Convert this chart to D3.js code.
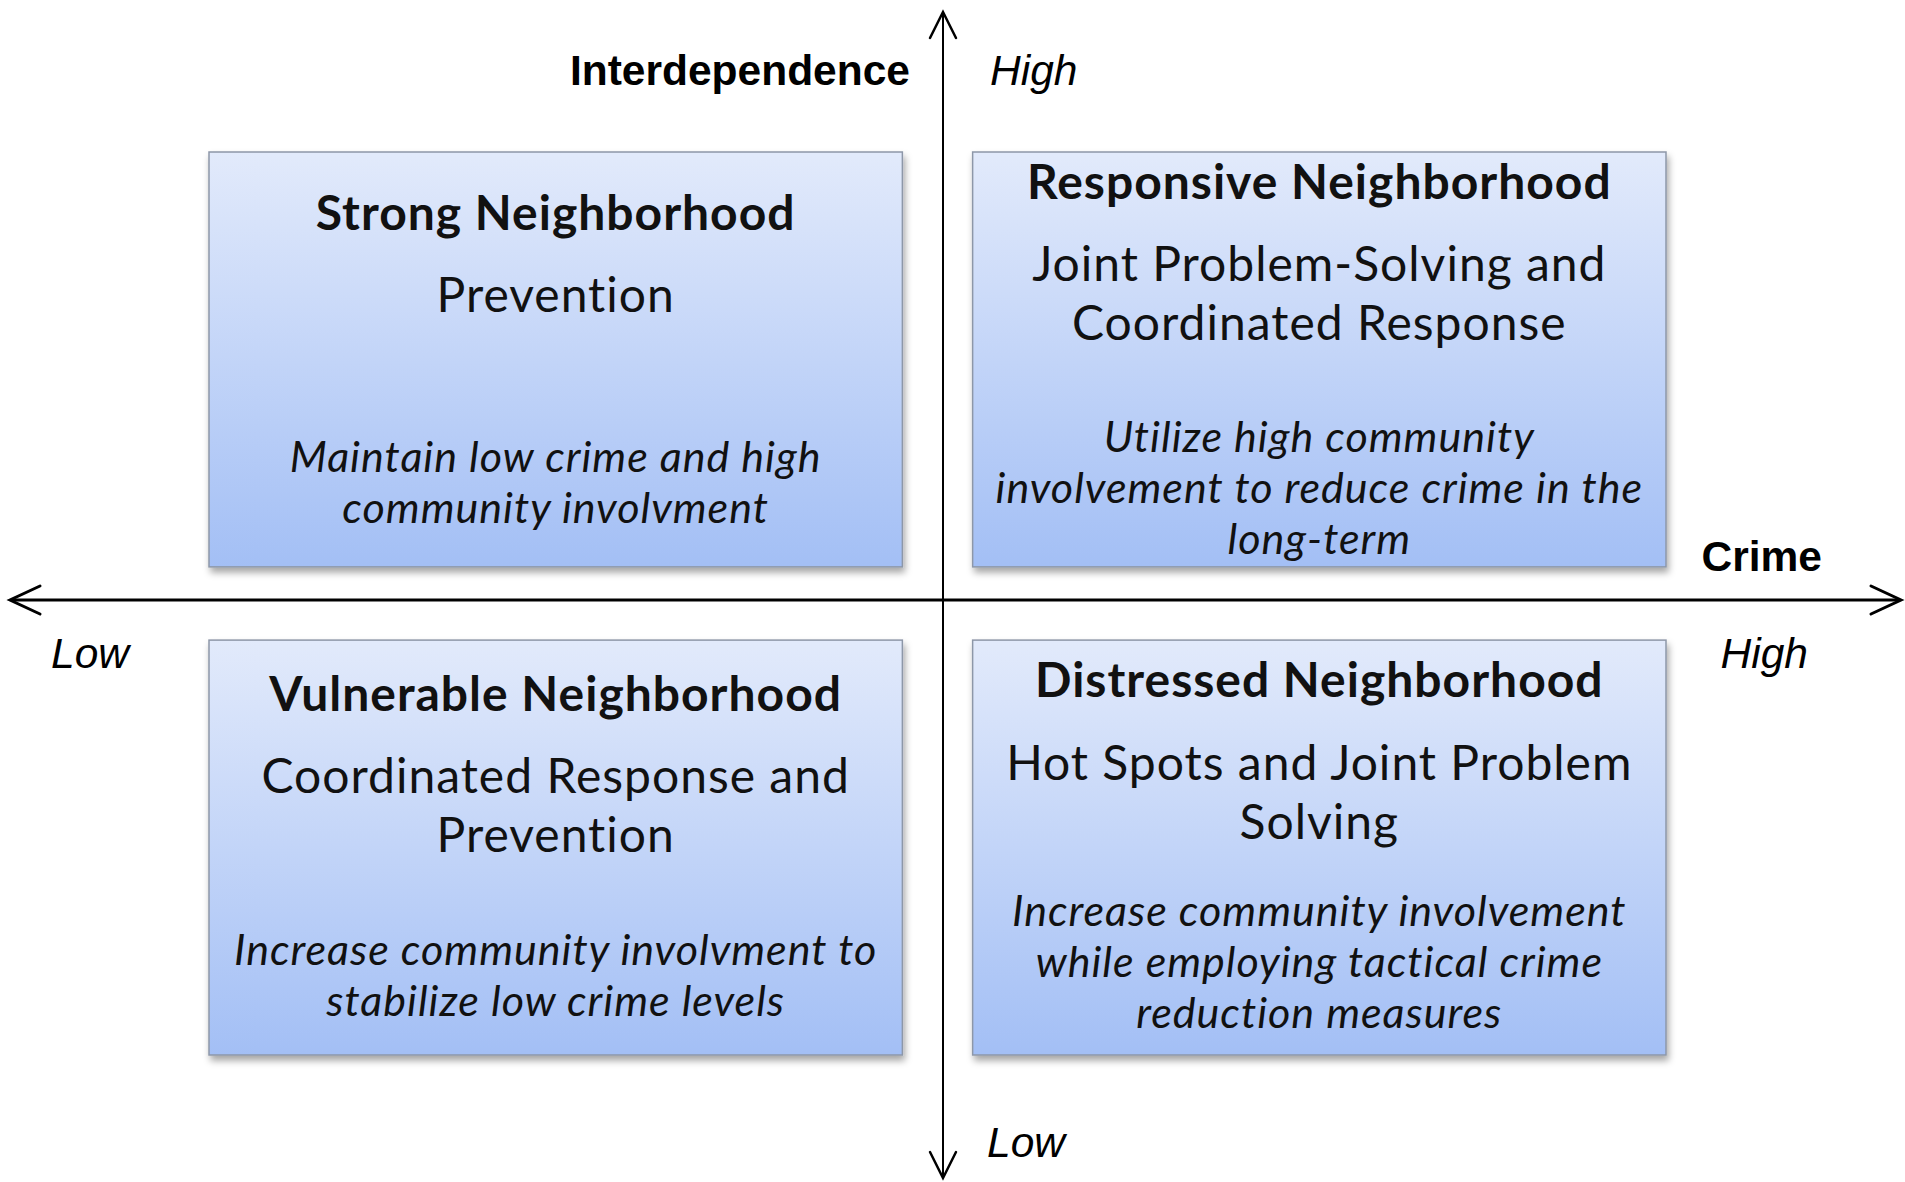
<!DOCTYPE html>
<html>
<head>
<meta charset="utf-8">
<script src="https://cdn.jsdelivr.net/npm/d3@7"></script>
<style>
  html, body { margin: 0; padding: 0; background: #ffffff; }
  svg { display: block; }
</style>
</head>
<body>
<script>
// ---------------- data ----------------
const crimeLevels = ["Low", "High"];
const interdependenceLevels = ["High", "Low"];
const quadrantTitles = ["Strong Neighborhood", "Responsive Neighborhood", "Vulnerable Neighborhood", "Distressed Neighborhood"];
const quadrantCrime = ["Low", "High", "Low", "High"];
const quadrantInterdependence = ["High", "High", "Low", "Low"];
const quadrantStrategies = [
  ["Prevention"],
  ["Joint Problem-Solving and", "Coordinated Response"],
  ["Coordinated Response and", "Prevention"],
  ["Hot Spots and Joint Problem", "Solving"]
];
const quadrantGoals = [
  ["Maintain low crime and high", "community involvment"],
  ["Utilize high community", "involvement to reduce crime in the", "long-term"],
  ["Increase community involvment to", "stabilize low crime levels"],
  ["Increase community involvement", "while employing tactical crime", "reduction measures"]
];
const xAxisTitle = "Crime";
const yAxisTitle = "Interdependence";

// ---------------- layout ----------------
const W = 1905, H = 1182;
const originX = 943, originY = 600;
// per quadrant vertical offsets (title, first strategy line, first goal line) from box top
const textOffsets = [
  [61, 143, 305],
  [30, 112, 285],
  [54, 136, 310],
  [40, 123, 271]
];
const stratLineH = 59.5, goalLineH = 51;

const svg = d3.select("body").append("svg").attr("width", W).attr("height", H);
const defs = svg.append("defs");

const grad = defs.append("linearGradient").attr("id", "boxGrad")
  .attr("x1", 0).attr("y1", 0).attr("x2", 0).attr("y2", 1);
grad.append("stop").attr("offset", "0%").attr("stop-color", "#e2eafb");
grad.append("stop").attr("offset", "100%").attr("stop-color", "#a3bff5");

const shadow = defs.append("filter").attr("id", "shadow")
  .attr("x", "-10%").attr("y", "-10%").attr("width", "125%").attr("height", "130%");
shadow.append("feDropShadow").attr("dx", 2).attr("dy", 5).attr("stdDeviation", 3.5)
  .attr("flood-color", "#000").attr("flood-opacity", 0.35);

// scales
const x = d3.scaleBand().domain(crimeLevels).range([209, 1666]).paddingInner(0.092);
const y = d3.scaleBand().domain(interdependenceLevels).range([152, 1055]).paddingInner(0.15);

// continuous scales for axes
const xAxisScale = d3.scaleLinear().domain([-1, 1]).range([10, 1901]);
const yAxisScale = d3.scaleLinear().domain([-1, 1]).range([1178, 12]);

// ---------------- quadrant boxes ----------------
const quads = quadrantTitles.map((t, i) => ({
  title: t, crime: quadrantCrime[i], inter: quadrantInterdependence[i],
  strategies: quadrantStrategies[i], goals: quadrantGoals[i], off: textOffsets[i]
}));

const g = svg.selectAll("g.quad").data(quads).enter().append("g")
  .attr("class", "quad")
  .attr("transform", d => `translate(${x(d.crime)},${y(d.inter)})`);

g.append("rect")
  .attr("width", x.bandwidth())
  .attr("height", y.bandwidth())
  .attr("fill", "url(#boxGrad)")
  .attr("stroke", "#8d97a8")
  .attr("stroke-width", 1.5)
  .attr("filter", "url(#shadow)");

const cx = x.bandwidth() / 2;
const boxFont = "Lato, 'Open Sans', sans-serif";

g.append("text")
  .attr("x", cx).attr("y", d => d.off[0]).attr("dy", "0.35em")
  .attr("text-anchor", "middle")
  .style("font-family", boxFont).style("font-weight", 700).style("font-size", "48px")
  .style("letter-spacing", "1px")
  .attr("fill", "#111")
  .text(d => d.title);

g.each(function(d) {
  const sel = d3.select(this);
  sel.selectAll("text.strat").data(d.strategies).enter().append("text")
    .attr("class", "strat")
    .attr("x", cx).attr("y", (s, j) => d.off[1] + j * stratLineH).attr("dy", "0.35em")
    .attr("text-anchor", "middle")
    .style("font-family", boxFont).style("font-weight", 400).style("font-size", "48px")
    .style("letter-spacing", "1px")
    .attr("fill", "#111")
    .text(s => s);
  sel.selectAll("text.goal").data(d.goals).enter().append("text")
    .attr("class", "goal")
    .attr("x", cx).attr("y", (s, j) => d.off[2] + j * goalLineH).attr("dy", "0.35em")
    .attr("text-anchor", "middle")
    .style("font-family", boxFont).style("font-style", "italic").style("font-size", "43px")
    .style("letter-spacing", "1px")
    .attr("fill", "#111")
    .text(s => s);
});

// ---------------- axes ----------------
const axes = svg.append("g");
// horizontal axis (Crime)
axes.append("line")
  .attr("x1", xAxisScale(-1) + 1).attr("x2", xAxisScale(1) - 1)
  .attr("y1", originY).attr("y2", originY)
  .attr("stroke", "#000").attr("stroke-width", 3);
// vertical axis (Interdependence)
axes.append("line")
  .attr("x1", originX).attr("x2", originX)
  .attr("y1", yAxisScale(1) + 1).attr("y2", yAxisScale(-1) - 1)
  .attr("stroke", "#000").attr("stroke-width", 2);

const ah = 30, aw = 14;
const arrowPaths = [
  [[xAxisScale(-1) + ah, originY - aw], [xAxisScale(-1), originY], [xAxisScale(-1) + ah, originY + aw]],
  [[xAxisScale(1) - ah, originY - aw], [xAxisScale(1), originY], [xAxisScale(1) - ah, originY + aw]],
  [[originX - 13, yAxisScale(1) + 26], [originX, yAxisScale(1)], [originX + 13, yAxisScale(1) + 26]],
  [[originX - 13, yAxisScale(-1) - 26], [originX, yAxisScale(-1)], [originX + 13, yAxisScale(-1) - 26]]
];
axes.selectAll("path.arrow").data(arrowPaths).enter().append("path")
  .attr("class", "arrow")
  .attr("d", d3.line())
  .attr("fill", "none").attr("stroke", "#000")
  .attr("stroke-width", (d, i) => i < 2 ? 3 : 2.5)
  .attr("stroke-linecap", "round").attr("stroke-linejoin", "miter");

// axis labels
const axFont = "'Liberation Sans', Arial, sans-serif";
const labels = [
  { t: yAxisTitle, x: 910, y: 85, anchor: "end", weight: 700, style: "normal" },
  { t: interdependenceLevels[0], x: 990, y: 85, anchor: "start", weight: 400, style: "italic" },
  { t: interdependenceLevels[1], x: 987, y: 1157, anchor: "start", weight: 400, style: "italic" },
  { t: xAxisTitle, x: 1822, y: 571, anchor: "end", weight: 700, style: "normal" },
  { t: crimeLevels[0], x: 51, y: 668, anchor: "start", weight: 400, style: "italic" },
  { t: crimeLevels[1], x: 1808, y: 668, anchor: "end", weight: 400, style: "italic" }
];
svg.selectAll("text.axlab").data(labels).enter().append("text")
  .attr("class", "axlab")
  .attr("x", d => d.x).attr("y", d => d.y)
  .attr("text-anchor", d => d.anchor)
  .style("font-family", axFont).style("font-size", "42.5px")
  .style("font-weight", d => d.weight).style("font-style", d => d.style)
  .attr("fill", "#000")
  .text(d => d.t);
</script>
</body>
</html>
